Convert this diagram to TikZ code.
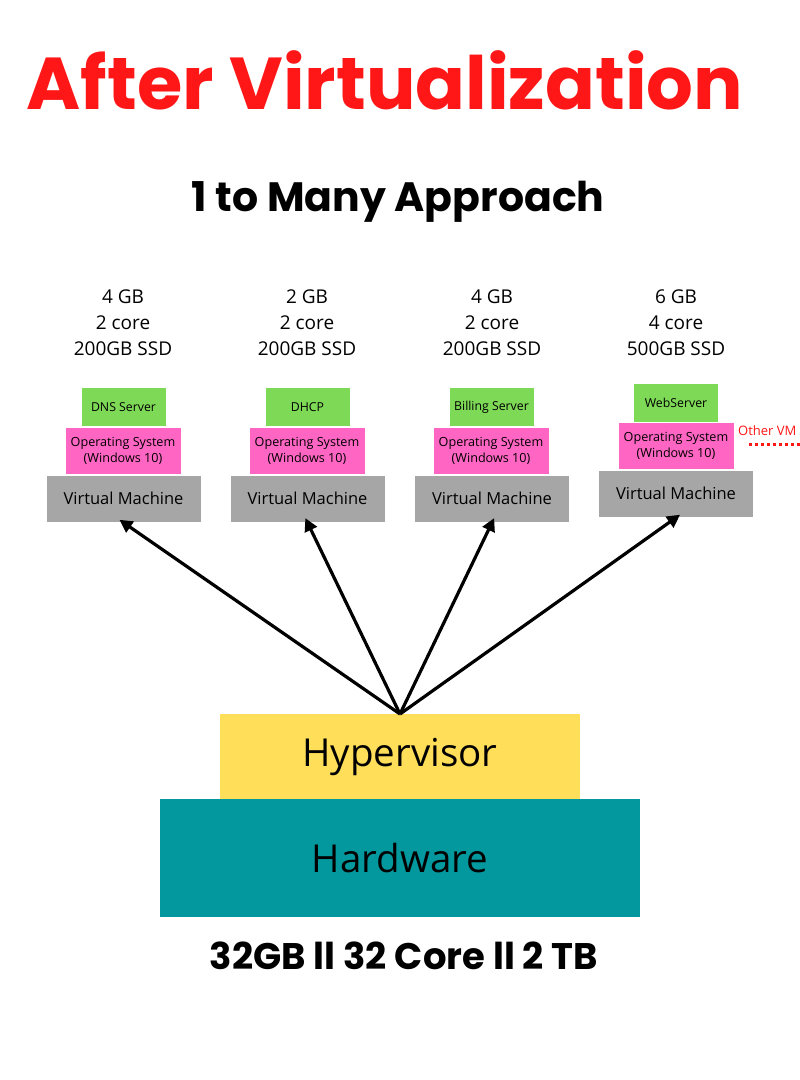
\documentclass[tikz,border=0pt]{standalone}
\usepackage{fontspec}
\setmainfont{Open Sans}
\newfontfamily\titlefont{Poppins}
\usetikzlibrary{arrows.meta}
\definecolor{titlered}{HTML}{FF1616}
\definecolor{appgreen}{HTML}{7ED957}
\definecolor{ospink}{HTML}{FF66C4}
\definecolor{vmgray}{HTML}{A6A6A6}
\definecolor{hypyellow}{HTML}{FFDE59}
\definecolor{hwteal}{HTML}{03989E}
\begin{document}
\begin{tikzpicture}[x=1pt,y=-1pt,
  appbox/.style={fill=appgreen,draw=white,line width=0.6pt,minimum width=85pt,minimum height=39pt,inner sep=0pt,font=\fontsize{12.3}{14}\selectfont,anchor=north},
  osbox/.style={fill=ospink,draw=white,line width=0.6pt,minimum width=116pt,minimum height=47pt,inner sep=0pt,align=center,font=\fontsize{12.6}{15.5}\selectfont,anchor=north},
  vmbox/.style={fill=vmgray,draw=white,line width=0.6pt,minimum width=155pt,minimum height=47pt,inner sep=0pt,font=\fontsize{16.5}{18}\selectfont,anchor=north},
  spec/.style={align=center,font=\fontsize{19}{26}\selectfont,anchor=north},
  conn/.style={line width=3.2pt,-{Triangle[length=13pt,width=13pt]},shorten >=-5pt}
]
\useasboundingbox (0,0) rectangle (800,1080);
\fill[white] (0,0) rectangle (800,1080);

\node[font=\titlefont\bfseries\fontsize{73.5}{84}\selectfont,text=titlered] (title) at (385,80) {After Virtualization};
\node[font=\titlefont\bfseries\fontsize{41}{46}\selectfont] (sub) at (398,202) {1 to Many Approach};

% column 1
\node[spec] (s1) at (123,286) {4 GB\\2 core\\200GB SSD};
\node[appbox] (a1) at (123.5,387) {DNS Server};
\node[osbox] (o1) at (123,427) {Operating System\\(Windows 10)};
\node[vmbox] (v1) at (123.5,475) {Virtual Machine};
% column 2
\node[spec] (s2) at (307,286) {2 GB\\2 core\\200GB SSD};
\node[appbox] (a2) at (307.5,387) {DHCP};
\node[osbox] (o2) at (307,427) {Operating System\\(Windows 10)};
\node[vmbox] (v2) at (307.5,475) {Virtual Machine};
% column 3
\node[spec] (s3) at (492,286) {4 GB\\2 core\\200GB SSD};
\node[appbox] (a3) at (491.5,387) {Billing Server};
\node[osbox] (o3) at (491,427) {Operating System\\(Windows 10)};
\node[vmbox] (v3) at (492,475) {Virtual Machine};
% column 4
\node[spec] (s4) at (676,286) {6 GB\\4 core\\500GB SSD};
\node[appbox] (a4) at (676,383) {WebServer};
\node[osbox] (o4) at (676,422) {Operating System\\(Windows 10)};
\node[vmbox] (v4) at (676,470) {Virtual Machine};

\node[text=titlered,font=\fontsize{13}{15}\selectfont,anchor=west,inner sep=0pt] (other) at (738,431) {Other VM};
\coordinate (dotA) at (749,444);
\coordinate (dotB) at (800,444);
\draw[titlered,line width=3pt,dash pattern=on 3pt off 3pt] (dotA) -- (dotB);

% base
\node[fill=hwteal,minimum width=480pt,minimum height=118pt,inner sep=0pt,anchor=north,font=\fontsize{38.5}{42}\selectfont] (hw) at (400,799) {Hardware};
\node[fill=hypyellow,minimum width=360pt,minimum height=85pt,inner sep=0pt,anchor=north,font=\fontsize{38.5}{42}\selectfont] (hyp) at (400,714) {Hypervisor};
\node[font=\titlefont\bfseries\fontsize{37}{42}\selectfont] (cap) at (404,956) {32GB ll 32 Core ll 2 TB};

\draw[conn] (hyp.north) -- (v1.south);
\draw[conn] (hyp.north) -- (v2.south);
\draw[conn] (hyp.north) -- (v3.south);
\draw[conn] (hyp.north) -- (v4.south);
\end{tikzpicture}
\end{document}
